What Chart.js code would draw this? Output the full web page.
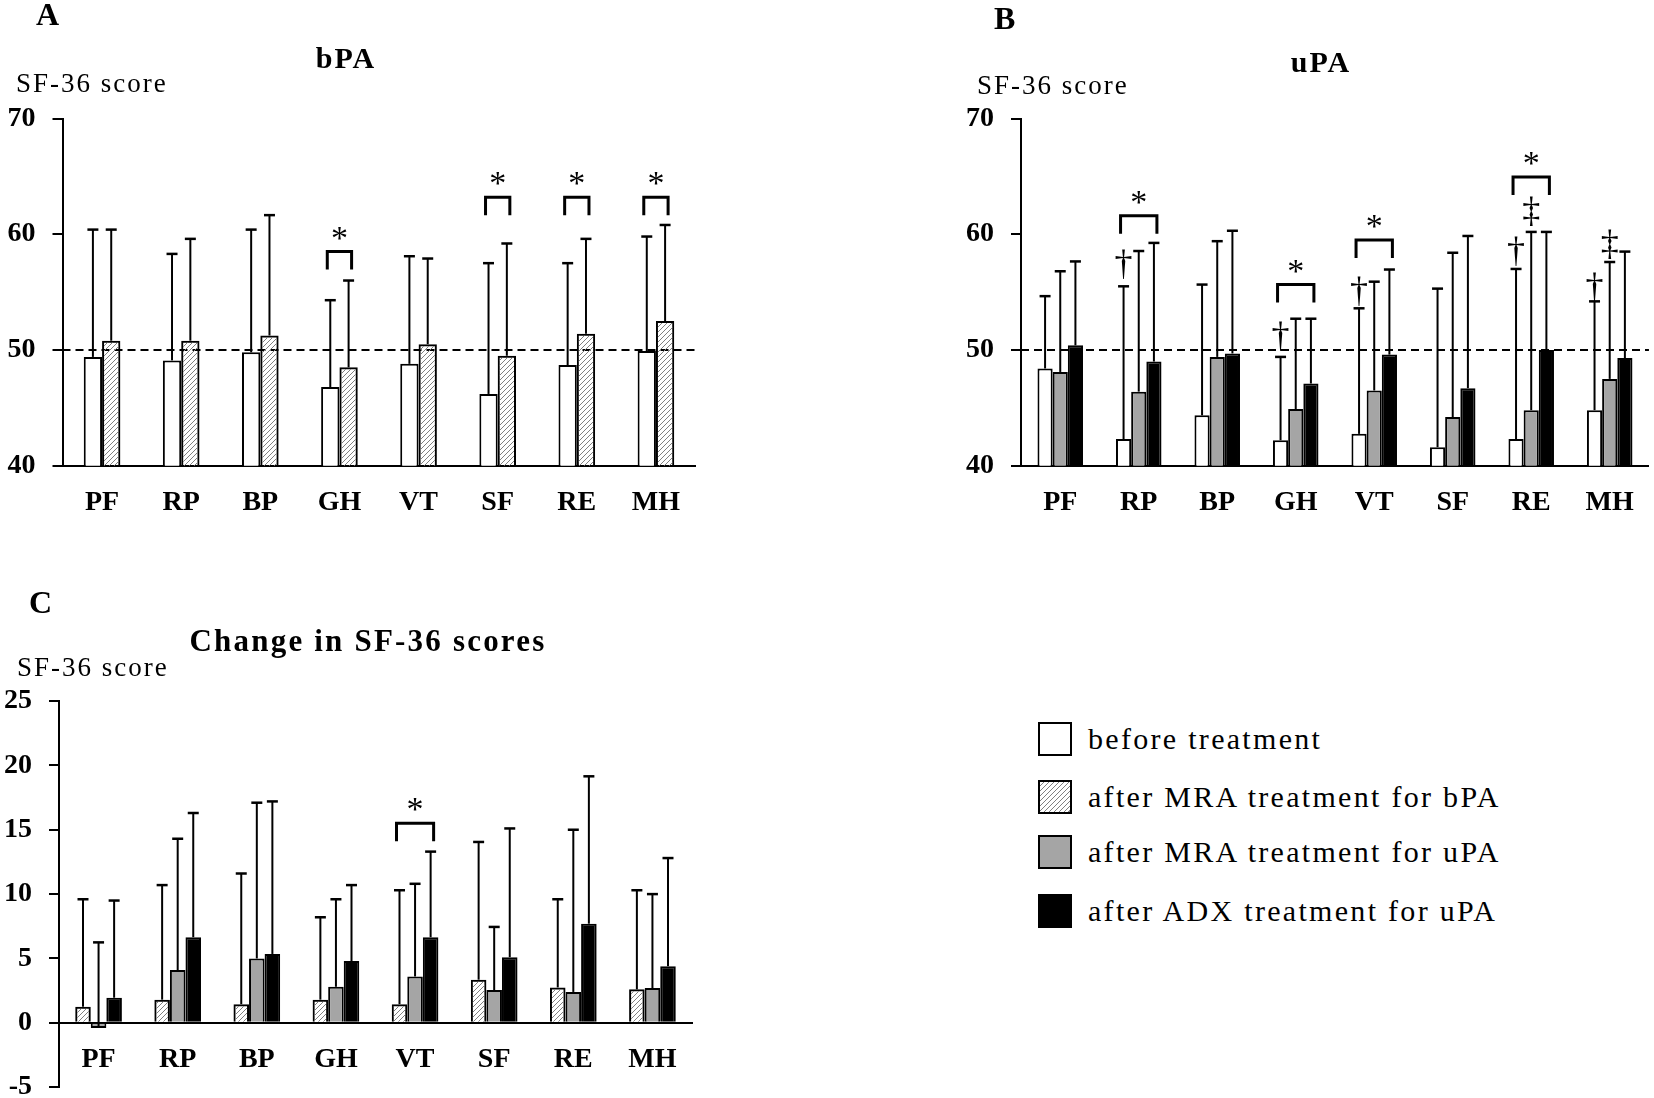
<!DOCTYPE html>
<html>
<head>
<meta charset="utf-8">
<script src="https://cdn.jsdelivr.net/npm/chart.js@4.4.1/dist/chart.umd.min.js"></script>
<style>
body { margin: 0; width: 1654px; height: 1098px; overflow: hidden; background: #fff; position: relative;
       font-family: 'Liberation Serif', 'Times New Roman', serif; color: #000; }
canvas { position: absolute; }
.t { position: absolute; line-height: 1; white-space: nowrap; }
.panel { font-size: 32px; font-weight: bold; }
.ttl { font-size: 30px; font-weight: bold; letter-spacing: 2px; transform: translateX(-50%); }
.unit { font-size: 27px; letter-spacing: 2px; }
.leg { position: absolute; left: 1038px; display: flex; align-items: center; }
.leg .box { width: 34px; height: 34px; box-sizing: border-box; border: 2px solid #000; margin-right: 16px; }
.leg span { font-size: 30px; line-height: 34px; letter-spacing: 2.3px; white-space: nowrap; }
</style>
</head>
<body>
<canvas id="chartA" width="720" height="545" style="left:0;top:0"></canvas>
<canvas id="chartB" width="694" height="545" style="left:960px;top:0"></canvas>
<canvas id="chartC" width="720" height="541" style="left:0;top:580px"></canvas>

<div class="t panel" style="left:36px;top:-2px">A</div>
<div class="t ttl" style="left:346px;top:43px">bPA</div>
<div class="t unit" style="left:16px;top:70px">SF-36 score</div>

<div class="t panel" style="left:994px;top:2px">B</div>
<div class="t ttl" style="left:1321px;top:47px">uPA</div>
<div class="t unit" style="left:977px;top:72px">SF-36 score</div>

<div class="t panel" style="left:29px;top:586px">C</div>
<div class="t ttl" style="left:368px;top:625px;font-size:31px;letter-spacing:2.2px">Change in SF-36 scores</div>
<div class="t unit" style="left:17px;top:654px">SF-36 score</div>

<div id="legend"></div>

<script>
const categories = ['PF', 'RP', 'BP', 'GH', 'VT', 'SF', 'RE', 'MH'];
const legendLabels = ['before treatment', 'after MRA treatment for bPA', 'after MRA treatment for uPA', 'after ADX treatment for uPA'];

// A - bPA
const bpaBefore   = [49.4, 49.1, 49.8, 46.8, 48.8, 46.2, 48.7, 49.9];
const bpaBeforeSD = [11.0, 9.2, 10.6, 7.5, 9.3, 11.3, 8.8, 9.9];
const bpaMRA      = [50.8, 50.8, 51.25, 48.5, 50.5, 49.5, 51.4, 52.5];
const bpaMRASD    = [9.6, 8.8, 10.4, 7.5, 7.4, 9.7, 8.2, 8.3];
const bpaSig      = [null, null, null, 58.5, null, 63.2, 63.2, 63.2];

// B - uPA
const upaBefore   = [48.4, 42.3, 44.35, 42.2, 42.75, 41.6, 42.3, 44.8];
const upaBeforeSD = [6.25, 13.2, 11.3, 7.2, 10.85, 13.7, 14.7, 9.4];
const upaMRA      = [48.1, 46.4, 49.4, 44.9, 46.5, 44.2, 44.8, 47.5];
const upaMRASD    = [8.7, 12.15, 10.0, 7.8, 9.4, 14.2, 15.4, 10.1];
const upaADX      = [50.4, 49.0, 49.7, 47.1, 49.6, 46.7, 50.0, 49.3];
const upaADXSD    = [7.25, 10.25, 10.6, 5.6, 7.35, 13.15, 10.2, 9.2];
const upaSig      = [null, 61.6, null, 55.65, 59.5, null, 64.95, null];
const upaDagger   = [null, 57.3, null, 51.1, 55.0, null, 58.4, 55.3];
const upaDDagger  = [null, null, null, null, null, null, 61.9, 59.0];

// C - change
const chgMRAb     = [1.25, 1.8, 1.45, 1.8, 1.45, 3.35, 2.75, 2.6];
const chgMRAbSD   = [8.35, 8.9, 10.15, 6.4, 8.85, 10.7, 6.85, 7.7];
const chgMRAu     = [-0.4, 4.1, 5.0, 2.8, 3.6, 2.55, 2.4, 2.7];
const chgMRAuSD   = [6.65, 10.2, 12.1, 6.8, 7.2, 4.9, 12.6, 7.3];
const chgADX      = [1.95, 6.65, 5.35, 4.8, 6.65, 5.1, 7.7, 4.4];
const chgADXSD    = [7.55, 9.65, 11.85, 5.9, 6.65, 10.0, 11.45, 8.4];
const chgSig      = [null, null, null, null, 15.5, null, null, null];

const FONT = 'Liberation Serif';
const GRAY = '#a5a5a5';

function hatchPattern() {
    const c = document.createElement('canvas');
    c.width = 5; c.height = 5;
    const g = c.getContext('2d');
    g.strokeStyle = '#808080';
    g.lineWidth = 1;
    g.beginPath();
    g.moveTo(-1, 6); g.lineTo(6, -1);
    g.moveTo(-3, 3); g.lineTo(3, -3);
    g.moveTo(2, 8); g.lineTo(8, 2);
    g.stroke();
    return g.createPattern(c, 'repeat');
}

// error bars, dashed reference line, brackets and symbols
const marks = {
    id: 'marks',
    beforeDatasetsDraw(chart, args, opts) {
        if (opts.refLine == null) return;
        const {ctx, chartArea} = chart;
        const y = chart.scales.y.getPixelForValue(opts.refLine);
        ctx.save();
        ctx.setLineDash([8, 5]);
        ctx.lineWidth = 2;
        ctx.strokeStyle = '#000';
        ctx.beginPath();
        ctx.moveTo(chartArea.left, y);
        ctx.lineTo(chartArea.right, y);
        ctx.stroke();
        ctx.restore();
    },
    afterDatasetsDraw(chart, args, opts) {
        const {ctx} = chart;
        const ys = chart.scales.y;
        const n = chart.data.datasets.length;
        ctx.save();
        ctx.strokeStyle = '#000';
        ctx.fillStyle = '#000';
        chart.data.datasets.forEach((ds, i) => {
            chart.getDatasetMeta(i).data.forEach((bar, j) => {
                const top = ys.getPixelForValue(ds.data[j] + ds.sd[j]);
                ctx.lineWidth = 2;
                ctx.beginPath();
                ctx.moveTo(bar.x, bar.y);
                ctx.lineTo(bar.x, top);
                ctx.stroke();
                ctx.lineWidth = 2.5;
                ctx.beginPath();
                ctx.moveTo(bar.x - 5.5, top);
                ctx.lineTo(bar.x + 5.5, top);
                ctx.stroke();
            });
        });
        (opts.sig || []).forEach((lvl, j) => {
            if (lvl == null) return;
            const a = chart.getDatasetMeta(0).data[j].x - 3;
            const b = chart.getDatasetMeta(n - 1).data[j].x + 3;
            const y = ys.getPixelForValue(lvl);
            ctx.lineWidth = 3;
            ctx.beginPath();
            ctx.moveTo(a, y + 18); ctx.lineTo(a, y); ctx.lineTo(b, y); ctx.lineTo(b, y + 18);
            ctx.stroke();
            ctx.font = '34px "' + FONT + '"';
            ctx.textAlign = 'center';
            ctx.textBaseline = 'alphabetic';
            ctx.fillText('*', (a + b) / 2, y - 3);
        });
        (opts.symbols || []).forEach(s => {
            s.values.forEach((v, j) => {
                if (v == null) return;
                const x = chart.getDatasetMeta(s.dataset).data[j].x;
                ctx.font = '36px "' + FONT + '"';
                ctx.textAlign = 'center';
                ctx.textBaseline = 'middle';
                ctx.fillText(s.ch, x, ys.getPixelForValue(v));
            });
        });
        ctx.restore();
    }
};

function makeChart(id, datasets, y, pad, yWidth, catPct, markOpts, xAtZero) {
    const tickFont = {family: FONT, size: 28, weight: 'bold'};
    return new Chart(document.getElementById(id), {
        type: 'bar',
        data: {
            labels: categories,
            datasets: datasets.map(d => Object.assign({
                borderColor: '#000', borderWidth: 2,
                categoryPercentage: catPct, barPercentage: 1
            }, d))
        },
        options: {
            responsive: false,
            animation: false,
            events: [],
            layout: {padding: pad},
            plugins: {legend: {display: false}, tooltip: {enabled: false}, marks: markOpts},
            scales: {
                x: {
                    position: xAtZero ? {y: 0} : 'bottom',
                    grid: {display: true, drawOnChartArea: false, drawTicks: false},
                    border: {display: true, color: '#000', width: 2},
                    ticks: {color: '#000', font: tickFont, padding: 20, maxRotation: 0, autoSkip: false},
                    afterFit: s => { s.height = 60; }
                },
                y: {
                    min: y.min, max: y.max,
                    ticks: {stepSize: y.step, color: '#000', font: tickFont, padding: 17},
                    grid: {drawOnChartArea: false, drawTicks: true, tickLength: 10, color: '#000', lineWidth: 2},
                    border: {display: true, color: '#000', width: 2},
                    afterFit: s => { s.width = yWidth; }
                }
            }
        },
        plugins: [marks]
    });
}

const hatch = hatchPattern();

makeChart('chartA', [
    {label: legendLabels[0], data: bpaBefore, sd: bpaBeforeSD, backgroundColor: '#fff'},
    {label: legendLabels[1], data: bpaMRA, sd: bpaMRASD, backgroundColor: hatch}
], {min: 40, max: 70, step: 10}, {top: 118.5, right: 24.5, bottom: 19.3, left: 0}, 62.5, 0.463,
   {refLine: 50, sig: bpaSig});

makeChart('chartB', [
    {label: legendLabels[0], data: upaBefore, sd: upaBeforeSD, backgroundColor: '#fff'},
    {label: legendLabels[2], data: upaMRA, sd: upaMRASD, backgroundColor: GRAY},
    {label: legendLabels[3], data: upaADX, sd: upaADXSD, backgroundColor: '#000'}
], {min: 40, max: 70, step: 10}, {top: 118.5, right: 3, bottom: 19.3, left: 0}, 61, 0.58,
   {refLine: 50, sig: upaSig, symbols: [{dataset: 0, ch: '\u2020', values: upaDagger}, {dataset: 1, ch: '\u2021', values: upaDDagger}]});

makeChart('chartC', [
    {label: legendLabels[1], data: chgMRAb, sd: chgMRAbSD, backgroundColor: hatch},
    {label: legendLabels[2], data: chgMRAu, sd: chgMRAuSD, backgroundColor: GRAY},
    {label: legendLabels[3], data: chgADX, sd: chgADXSD, backgroundColor: '#000'}
], {min: -5, max: 25, step: 5}, {top: 121, right: 28, bottom: 20, left: 0}, 59, 0.59,
   {sig: chgSig}, true);

// legend
const legendFills = ['#fff', 'repeating-linear-gradient(135deg, #fff 0 2.5px, #808080 2.5px 3.5px)', GRAY, '#000'];
const legendTops = [722, 780, 835, 894];
const legend = document.getElementById('legend');
legendLabels.forEach((lab, i) => {
    const row = document.createElement('div');
    row.className = 'leg';
    row.style.top = legendTops[i] + 'px';
    const box = document.createElement('div');
    box.className = 'box';
    box.style.background = legendFills[i];
    const txt = document.createElement('span');
    txt.textContent = lab;
    row.appendChild(box);
    row.appendChild(txt);
    legend.appendChild(row);
});
</script>
</body>
</html>
